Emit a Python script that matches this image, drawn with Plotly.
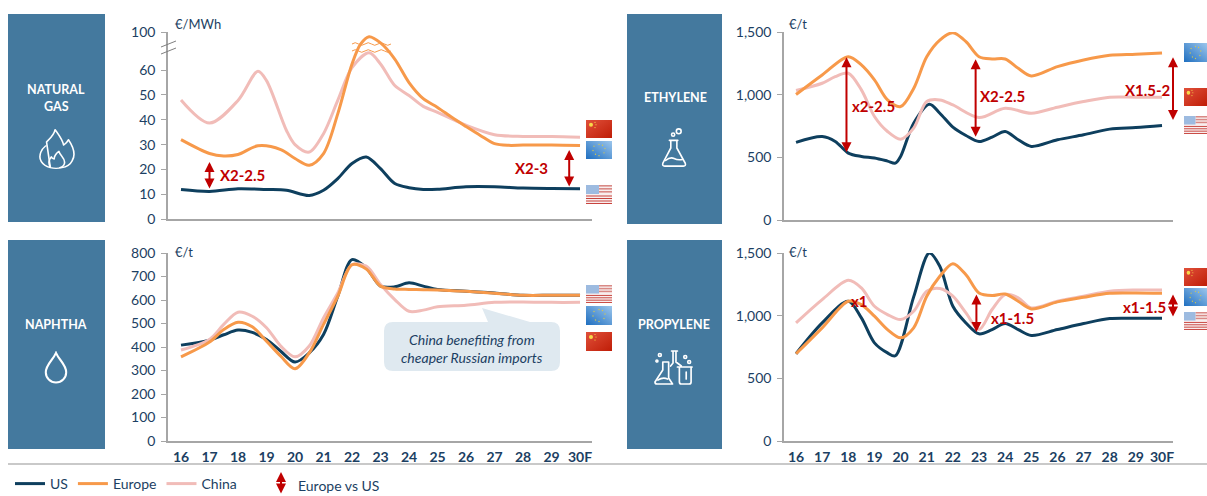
import base64
import plotly.graph_objects as go

W, H = 1207, 496
years = list(range(16, 31))
year_labels = [str(y) for y in range(16, 30)] + ["30F"]

gas_x_us = [16,17,18,19,19.7,20.5,21,21.5,22,22.5,23,23.5,24,24.5,25,26,27,28,29,30]
gas_us = [11.9,11.1,12.2,11.9,11.6,9.5,11.6,16.3,22.4,25,20.3,14.3,12.6,11.9,12,13,13,12.5,12.3,12.2]
gas_x_eu = [16,17,17.5,18,18.7,19.5,20,20.5,21,21.5,22,22.3,22.6,23,23.5,24,24.5,25,25.5,26,26.5,27,27.5,28,29,30]
gas_eu = [32,26.4,25.4,26,29.5,28,24.4,21.7,26.4,42.4,62.5,70.5,73.5,71,64.5,55,48.5,45,41,37.3,33.7,30.4,29.7,29.8,29.8,29.6]
gas_x_cn = [16,17,18,18.7,19,19.7,20,20.5,21,21.5,22,22.6,23,23.5,24,24.5,25,26,27,28,29,30]
gas_cn = [48,38.7,47.8,59.6,55.8,35.7,30,27,34.4,47.8,61,67,62.5,53.8,49.8,45.4,43,37.8,34,33.3,33.3,33]

nap_x = [16,17,17.5,18,18.5,19,19.5,20,20.5,21,21.5,22,22.5,23,23.5,24,24.5,25,26,27,28,29,30]
nap_us = [408,429,452,472,462,432,382,336,375,453,616,772,737,659,656,673,659,645,637,630,620,620,620]
nap_eu = [358,421,474,505,486,425,361,307,375,496,616,750,732,659,647,645,644,643,637,629,620,620,620]
nap_cn = [387,432,496,548,531,482,404,358,404,524,630,750,744,666,602,552,557,571,578,590,592,590,590]

eth_x_us = [16,17,17.5,18,18.5,19,19.5,19.8,20,20.5,21.1,21.5,22,22.5,23,23.5,24,24.5,25,26,27,28,29,30]
eth_us = [619,666,627,534,507,494,470,454,507,772,924,852,741,674,626,661,706,640,587,640,680,725,738,754]
eth_x_eu = [16,17,18,18.5,19,19.5,20,20.5,21,21.5,22,22.5,23,23.5,24,24.5,25,26,27,28,29,30]
eth_eu = [1001,1157,1303,1237,1118,958,905,1050,1303,1436,1494,1423,1303,1285,1285,1210,1149,1224,1277,1314,1322,1333]
eth_x_cn = [16,17,17.5,18,18.5,19,19.5,20,20.5,21,21.5,22,23,24,25,26,27,28,29,30]
eth_cn = [1033,1091,1144,1171,1038,826,706,645,733,945,958,918,818,892,852,900,945,980,980,980]

pro_x = [16,17,18,18.5,19,19.5,19.8,20.5,21.1,21.5,22,22.5,23,23.5,24,24.5,25,26,27,28,29,30]
pro_us = [696,942,1115,982,783,703,680,1150,1500,1394,1075,942,855,889,937,889,842,889,937,977,979,979]
pro_x_eu = [16,17,18,18.5,19,19.5,20,20.5,21,21.5,22,22.5,23,23.5,24,24.5,25,26,27,28,29,30]
pro_eu = [696,903,1115,1088,996,889,823,903,1155,1314,1415,1327,1181,1160,1173,1115,1054,1110,1147,1179,1181,1179]
pro_cn = [942,1128,1282,1221,1075,1009,969,1035,1195,1216,1155,1022,889,1049,1168,1142,1062,1115,1155,1195,1205,1205]

COL_US, COL_EU, COL_CN = "#0e3f5e", "#f7994a", "#f1bcb8"
NAVY, RED, BOX, AXIS = "#1c3f63", "#c00000", "#44799e", "#a6a6a6"
FONT = "Lato"


def px(x):
    return x / W


def py(y):
    return 1 - y / H


panels = [
    dict(name="1", dom=(168, 592, 32, 219), xr=(15.544, 30.42), top=75.4,
         tv=[0, 10, 20, 30, 40, 50, 60, 75.4], tt=["0", "10", "20", "30", "40", "50", "60", "100"],
         series=[(gas_x_us, gas_us, COL_US, "US"), (gas_x_cn, gas_cn, COL_CN, "China"), (gas_x_eu, gas_eu, COL_EU, "Europe")], labels=False),
    dict(name="2", dom=(784, 1173, 32, 220), xr=(15.54, 30.42), top=1500,
         tv=[0, 500, 1000, 1500], tt=["0", "500", "1,000", "1,500"],
         series=[(eth_x_us, eth_us, COL_US, "US"), (eth_x_cn, eth_cn, COL_CN, "China"), (eth_x_eu, eth_eu, COL_EU, "Europe")], labels=False),
    dict(name="3", dom=(168, 592, 253, 441), xr=(15.544, 30.42), top=800,
         tv=list(range(0, 801, 100)), tt=[str(v) for v in range(0, 801, 100)],
         series=[(nap_x, nap_us, COL_US, "US"), (nap_x, nap_cn, COL_CN, "China"), (nap_x, nap_eu, COL_EU, "Europe")], labels=True),
    dict(name="4", dom=(784, 1173, 253, 441), xr=(15.54, 30.42), top=1500,
         tv=[0, 500, 1000, 1500], tt=["0", "500", "1,000", "1,500"],
         series=[(pro_x, pro_us, COL_US, "US"), (pro_x_eu, pro_cn, COL_CN, "China"), (pro_x_eu, pro_eu, COL_EU, "Europe")], labels=True),
]

fig = go.Figure()
rank = {"US": 1, "Europe": 2, "China": 3}
for i, p in enumerate(panels):
    sfx = "" if i == 0 else str(i + 1)
    x0, x1, yt, yb = p["dom"]
    fig.update_layout(**{
        f"xaxis{sfx}": dict(domain=[px(x0), px(x1)], range=list(p["xr"]), anchor=f"y{sfx}",
                            tickvals=years, ticktext=year_labels if p["labels"] else [""] * 15,
                            showgrid=False, zeroline=False, showline=True, linecolor=AXIS, linewidth=1.5,
                            ticks="", ticklabelstandoff=2, tickfont=dict(family=FONT, size=14, color=NAVY, weight="bold")),
        f"yaxis{sfx}": dict(domain=[py(yb), py(yt)], range=[0, p["top"]], anchor=f"x{sfx}",
                            tickvals=p["tv"], ticktext=p["tt"], showgrid=False, zeroline=False,
                            showline=True, linecolor=AXIS, linewidth=1.5, ticks="outside", ticklen=5,
                            ticklabelstandoff=3, tickcolor=AXIS, tickwidth=1, tickfont=dict(family=FONT, size=14, color=NAVY)),
    })
    for xs, ys, col, name in p["series"]:
        fig.add_trace(go.Scatter(x=xs, y=ys, mode="lines", name=name, xaxis=f"x{sfx}", yaxis=f"y{sfx}",
                                 line=dict(color=col, width=3, shape="spline", smoothing=0.9),
                                 showlegend=i == 0, legendrank=rank[name], hoverinfo="skip"))

shapes, annots, images = [], [], []


def text(x, y, s, size=14, color=NAVY, bold=False, italic=False, anchor="center"):
    annots.append(dict(xref="paper", yref="paper", x=px(x), y=py(y), text=s, showarrow=False, xanchor=anchor,
                       yanchor="middle", font=dict(family=FONT, size=size, color=color,
                                                   weight="bold" if bold else "normal",
                                                   style="italic" if italic else "normal")))


def arrow(sfx, xv, y0, y1):
    annots.append(dict(xref=f"x{sfx}", yref=f"y{sfx}", axref=f"x{sfx}", ayref=f"y{sfx}", x=xv, y=y1, ax=xv, ay=y0,
                       text="", showarrow=True, arrowside="end+start", arrowhead=2, startarrowhead=2,
                       arrowsize=1, startarrowsize=1, arrowwidth=2, arrowcolor=RED, standoff=0, startstandoff=0))


def svg_image(svg, x0, y0, x1, y1):
    src = "data:image/svg+xml;base64," + base64.b64encode(svg.encode()).decode()
    images.append(dict(source=src, xref="paper", yref="paper", x=px(x0), y=py(y0), sizex=(x1 - x0) / W,
                       sizey=(y1 - y0) / H, sizing="stretch", xanchor="left", yanchor="top", layer="above"))


# blue label boxes
for x0, y0, x1, y1 in [(8, 14, 105, 222), (8, 240, 105, 449), (627, 14, 722, 224), (627, 240, 722, 449)]:
    shapes.append(dict(type="rect", xref="paper", yref="paper", x0=px(x0), x1=px(x1), y0=py(y0), y1=py(y1),
                       fillcolor=BOX, line=dict(width=0), layer="below"))
text(56, 89, "NATURAL", 12.5, "white", True)
text(56, 107, "GAS", 12.5, "white", True)
text(56, 324, "NAPHTHA", 12.5, "white", True)
text(675, 98, "ETHYLENE", 12.5, "white", True)
text(674, 324, "PROPYLENE", 12.5, "white", True)

# units
text(173, 24, "€/MWh", 13, anchor="left")
text(173, 252, "€/t", 13, anchor="left")
text(787, 24, "€/t", 13, anchor="left")
text(787, 252, "€/t", 13, anchor="left")

# arrows and multipliers
arrow("", 17, 11.7, 23)
arrow("", 29.62, 12.5, 27.8)
arrow("2", 17.93, 528, 1298)
arrow("2", 22.87, 653, 1282)
arrow("2", 30.42, 786, 1298)
arrow("4", 22.9, 857, 1168)
arrow("4", 30.42, 982, 1168)
arrow("4", 17.93, 1095, 1135)
for x, y, s in [(242, 175, "X2-2.5"), (531, 168, "X2-3"), (873, 106, "x2-2.5"), (1002, 96, "X2-2.5"),
                (1148, 90, "X1.5-2"), (859, 301, "x1"), (1012, 318, "x1-1.5"), (1144, 307, "x1-1.5")]:
    text(x, y, s, 15, RED, True)

# axis break and capped peak marks
for y in (44, 51):
    shapes.append(dict(type="line", xref="paper", yref="paper", x0=px(161), x1=px(176), y0=py(y + 3), y1=py(y - 3),
                       line=dict(color="#7f7f7f", width=1)))
    pts = " ".join(f"Q {px(352 + k * 6.5 + 3.2):.5f} {py(y + (2.6 if k % 2 else -2.6)):.5f} {px(352 + (k + 1) * 6.5):.5f} {py(y):.5f}" for k in range(6))
    shapes.append(dict(type="path", xref="paper", yref="paper", path=f"M {px(352):.5f} {py(y):.5f} {pts}",
                       line=dict(color=COL_EU, width=1)))

# callout
r = 9
L, R_, T, B = 384, 560, 322, 371
d = (f"M {px(L + r)} {py(T)} L {px(488)} {py(T)} L {px(482)} {py(308)} L {px(530)} {py(T)} L {px(R_ - r)} {py(T)} "
     f"Q {px(R_)} {py(T)} {px(R_)} {py(T + r)} L {px(R_)} {py(B - r)} Q {px(R_)} {py(B)} {px(R_ - r)} {py(B)} "
     f"L {px(L + r)} {py(B)} Q {px(L)} {py(B)} {px(L)} {py(B - r)} L {px(L)} {py(T + r)} Q {px(L)} {py(T)} {px(L + r)} {py(T)} Z")
shapes.append(dict(type="path", xref="paper", yref="paper", path=d, fillcolor="#dfe9f0", line=dict(width=0), layer="below"))
text(472, 339, "China benefiting from", 14, NAVY, italic=True)
text(472, 357, "cheaper Russian imports", 14, NAVY, italic=True)

# bottom rule and key
shapes.append(dict(type="line", xref="paper", yref="paper", x0=px(8), x1=1, y0=py(464), y1=py(464),
                   line=dict(color="#c9c9c9", width=2)))
annots.append(dict(xref="paper", yref="paper", x=px(281), y=py(472), ax=0, ay=23, text="", showarrow=True,
                   arrowside="end+start", arrowhead=2, startarrowhead=2, arrowsize=1, startarrowsize=1,
                   arrowwidth=2, arrowcolor=RED, standoff=0, startstandoff=0))
text(296, 485, "Europe vs US", 14, anchor="left")

# flags
CN = ('<svg xmlns="http://www.w3.org/2000/svg" viewBox="0 0 26 19" preserveAspectRatio="none">'
      '<defs><linearGradient id="g" x1="0" y1="0" x2="1" y2="1"><stop offset="0" stop-color="#e0503a"/>'
      '<stop offset="1" stop-color="#bf1d07"/></linearGradient></defs><rect width="26" height="19" fill="url(#g)"/>'
      '<circle cx="5" cy="5" r="2" fill="#f7d84a"/><circle cx="9" cy="2.5" r=".6" fill="#f7d84a"/>'
      '<circle cx="10" cy="5" r=".6" fill="#f7d84a"/><circle cx="9" cy="8" r=".6" fill="#f7d84a"/></svg>')
stars = "".join(f'<circle cx="{cx}" cy="{cy}" r=".7" fill="#d9c84a"/>' for cx, cy in
                [(13, 3.5), (16.5, 4.5), (19, 8), (18, 12.5), (13, 15.5), (9.5, 14), (7, 10), (8, 5.5)])
EU = ('<svg xmlns="http://www.w3.org/2000/svg" viewBox="0 0 26 19" preserveAspectRatio="none">'
      '<defs><linearGradient id="e" x1="0" y1="1" x2="1" y2="0"><stop offset="0" stop-color="#1f6fc0"/>'
      '<stop offset="1" stop-color="#9cc6ec"/></linearGradient></defs><rect width="26" height="19" fill="url(#e)"/>'
      + stars + '</svg>')
stripes = "".join(f'<rect y="{y}" width="26" height="1" fill="#c8443e"/>' for y in (10.5, 13, 15.5, 18))
US = ('<svg xmlns="http://www.w3.org/2000/svg" viewBox="0 0 26 19" preserveAspectRatio="none">'
      '<rect width="26" height="19" fill="#f8eeee"/>'
      '<rect y="0" x="13" width="13" height="1.6" fill="#d98a86"/><rect y="3" x="13" width="13" height="1.6" fill="#d98a86"/>'
      '<rect y="6" x="13" width="13" height="1.6" fill="#d98a86"/>'
      + stripes + '<rect width="13" height="9" fill="#9dbbe0"/></svg>')
for svg, x0, y0, x1, y1 in [
    (CN, 586, 120, 612, 138), (EU, 586, 141, 612, 159), (US, 586, 185, 612, 204),
    (EU, 1184, 43, 1207, 62), (CN, 1184, 88, 1207, 106), (US, 1184, 116, 1207, 134),
    (US, 586, 285, 612, 303), (EU, 586, 306, 612, 325), (CN, 586, 332, 612, 351),
    (CN, 1184, 268, 1207, 286), (EU, 1184, 288, 1207, 306), (US, 1184, 312, 1207, 330),
]:
    svg_image(svg, x0, y0, x1, y1)

# icons
S = 'fill="none" stroke="white" stroke-width="1.7" stroke-linecap="round" stroke-linejoin="round"'
flame = (f'<svg xmlns="http://www.w3.org/2000/svg" viewBox="0 0 40 54"><path {S} d="M13 51 C4 48 0 40 3 31 C4 28 6 25 8 23 '
         'M9 18 C12 14 17 9 18 2 C22 9 26 15 27 22 C29 20 31 18 32 15 C37 24 40 34 36 42 C34 47 30 50 25 51 Q19 53 13 51 Z"/>'
         f'<path {S} d="M13 50 C10 44 12 40 14 37 C15 39 16 40 17 40 C17 36 19 33 22 30 C23 35 28 38 28 44 C28 47 26 50 23 51"/></svg>')
flask = (f'<svg xmlns="http://www.w3.org/2000/svg" viewBox="0 0 30 42"><path {S} d="M9 13 H18 M10.5 13 V21 L2 37 Q1 40 4 40 H24 Q27 40 26 37 L17 21 V13"/>'
         f'<path {S} d="M5 34 Q10 30 14 32 T23 33"/><circle {S} cx="13" cy="7" r="1.7"/><circle {S} cx="19" cy="3.5" r="2.6"/></svg>')
drop = (f'<svg xmlns="http://www.w3.org/2000/svg" viewBox="0 0 28 34"><path fill="none" stroke="white" stroke-width="2.2" d="M14 2 C11 9 3 14 3 22 A11 10.5 0 0 0 25 22 C25 14 17 9 14 2 Z"/></svg>')
flasks = (f'<svg xmlns="http://www.w3.org/2000/svg" viewBox="0 0 42 36"><path {S} d="M9 13 V21 L1 33 Q1 35 3 35 H19 L15 29 V13 Z"/>'
          f'<path {S} d="M18 2 H24 M19.5 2 V14 L17 17 M22.5 2 V13 L28 17 M24 18 H39 M26 18 V33 Q26 35 28 35 H36 Q38 35 38 33 V18"/>'
          f'<path {S} d="M33 23 V30 M4 31 Q9 28 14 30"/><circle {S} cx="6" cy="6" r="1.5"/><circle {S} cx="3" cy="12" r="1"/>'
          f'<circle {S} cx="32" cy="8" r="1.5"/><circle {S} cx="36" cy="13" r="1.5"/></svg>')
svg_image(flame, 38, 128, 76, 170)
svg_image(flask, 661, 128, 689, 168)
svg_image(drop, 43, 351, 69, 384)
svg_image(flasks, 654, 349, 695, 385)

fig.update_layout(
    width=W, height=H, autosize=False, margin=dict(l=0, r=0, t=0, b=0, autoexpand=False), paper_bgcolor="white", plot_bgcolor="white",
    shapes=shapes, annotations=annots, images=images, hovermode=False,
    legend=dict(orientation="h", x=px(10), y=py(484), xanchor="left", yanchor="middle",
                itemwidth=30, tracegroupgap=0, bgcolor="rgba(0,0,0,0)",
                font=dict(family=FONT, size=14, color=NAVY)),
)
fig.write_html("out.html", config={"displayModeBar": False},
               post_script="document.body.style.margin='0';document.documentElement.style.overflow='hidden';")
